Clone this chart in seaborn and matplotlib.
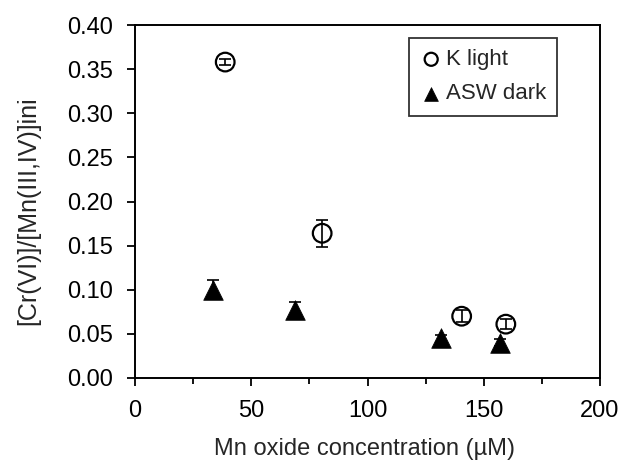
import matplotlib
matplotlib.use("Agg")
import matplotlib.pyplot as plt
import seaborn as sns
import pandas as pd
import numpy as np
from matplotlib.ticker import MultipleLocator

sns.set_style("white")
plt.rcParams['font.family'] = ['Liberation Sans', 'DejaVu Sans']

# Data
k_x = [38.8, 80.5, 140.5, 159.5]
k_y = [0.358, 0.164, 0.070, 0.061]
k_err = [0.003, 0.015, 0.007, 0.006]

asw_x = [33.5, 69.0, 131.5, 157.0]
asw_y = [0.100, 0.077, 0.045, 0.040]
asw_err = [0.011, 0.009, 0.004, 0.004]

series_names = ["K light", "ASW dark"]
x_ticks = [0, 50, 100, 150, 200]
y_ticks = [0.00, 0.05, 0.10, 0.15, 0.20, 0.25, 0.30, 0.35, 0.40]

df = pd.DataFrame({
    "x": k_x + asw_x,
    "y": k_y + asw_y,
    "err": k_err + asw_err,
    "series": [series_names[0]] * len(k_x) + [series_names[1]] * len(asw_x),
})

fig = plt.figure(figsize=(6.26, 4.66), dpi=100)
ax = fig.add_axes([135/626, 1 - 378/466, (600-135)/626, (378-25)/466])

# error bars
ax.errorbar(k_x, k_y, yerr=k_err, fmt='none', ecolor='black', elinewidth=1.2,
            capsize=4, capthick=1.2, zorder=3)
ax.errorbar(asw_x, asw_y, yerr=asw_err, fmt='none', ecolor='black', elinewidth=1.2,
            capsize=4, capthick=1.2, zorder=1)

sns.scatterplot(data=df[df.series == series_names[0]], x="x", y="y", ax=ax,
                marker='o', s=180, facecolor='none', edgecolor='black',
                linewidth=1.6, label=series_names[0], zorder=4)
sns.scatterplot(data=df[df.series == series_names[1]], x="x", y="y", ax=ax,
                marker='^', s=200, color='black', edgecolor='black',
                linewidth=0.5, label=series_names[1], zorder=2)

ax.set_xlim(0, 200)
ax.set_ylim(0, 0.40)
ax.set_xticks(x_ticks)
ax.set_xticklabels([str(v) for v in x_ticks])
ax.xaxis.set_minor_locator(MultipleLocator(25))
ax.set_yticks(y_ticks)
ax.set_yticklabels([f"{v:.2f}" for v in y_ticks])

for s in ax.spines.values():
    s.set_color('black')
    s.set_linewidth(1.4)
    s.set_visible(True)

ax.tick_params(axis='both', which='major', direction='out', length=6, width=1.3,
               colors='black', labelsize=17, bottom=True, left=True)
ax.tick_params(axis='y', which='major', pad=10)
ax.tick_params(axis='x', which='major', pad=10)
ax.tick_params(axis='x', which='minor', direction='out', length=4, width=1.3,
               colors='black', bottom=True)

ax.set_xlabel("Mn oxide concentration (µM)", fontsize=17)
ax.set_ylabel("[Cr(VI)]/[Mn(III,IV)]ini", fontsize=18)
ax.xaxis.set_label_coords((365-135)/465, (378-449)/353)
ax.xaxis.label.set_va('center')
ax.yaxis.set_label_coords((28-135)/465, (378-211)/353)
ax.yaxis.label.set_va('center')

leg = ax.legend(loc='upper right', bbox_to_anchor=((557-135)/465, (378-38)/353),
                fontsize=16, frameon=True, fancybox=False, edgecolor='black',
                handletextpad=0.15, handlelength=1.0, borderpad=0.5,
                labelspacing=0.6, markerscale=0.7, borderaxespad=0)
leg.get_frame().set_linewidth(1.3)

fig.savefig("out.png", dpi=100)
